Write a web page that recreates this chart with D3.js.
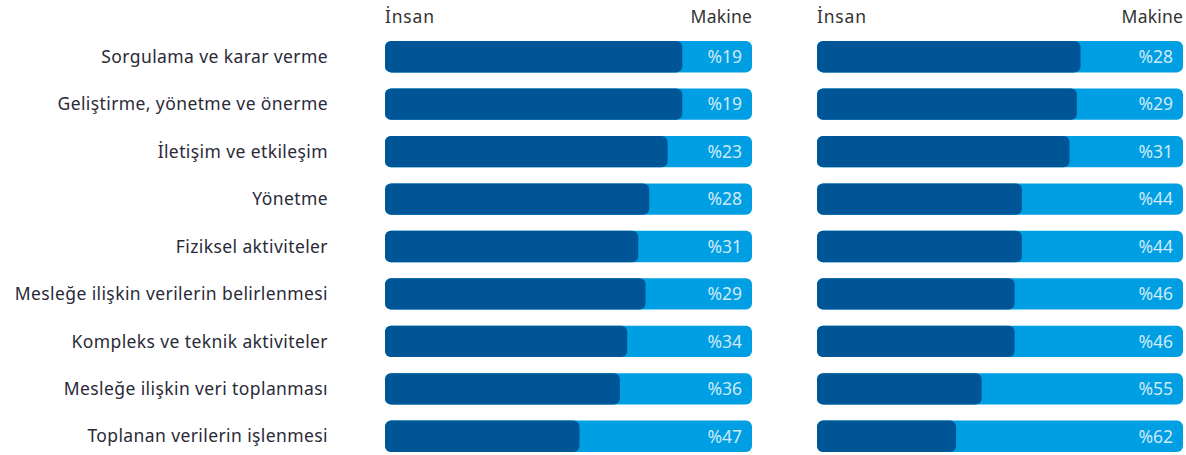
<!DOCTYPE html>
<html><head><meta charset="utf-8">
<script src="https://cdn.jsdelivr.net/npm/d3@7"></script>
<style>body{margin:0;background:#fff}svg{display:block}</style>
</head><body>
<script>
const categories = ["Sorgulama ve karar verme","Geliştirme, yönetme ve önerme","İletişim ve etkileşim","Yönetme","Fiziksel aktiviteler","Mesleğe ilişkin verilerin belirlenmesi","Kompleks ve teknik aktiviteler","Mesleğe ilişkin veri toplanması","Toplanan verilerin işlenmesi"];
const machineLeft = [19,19,23,28,31,29,34,36,47];
const machineRight = [28,29,31,44,44,46,46,55,62];
const headerLeft = "İnsan", headerRight = "Makine";

const W = 1186, H = 455;
const svg = d3.select("body").append("svg").attr("width", W).attr("height", H);
const font = "'Noto Sans', sans-serif";
const y = d3.scaleBand().domain(categories).range([33, 460]).paddingInner(0.34).paddingOuter(0.17);

svg.append("g").selectAll("text").data(categories).join("text")
  .attr("x", 328).attr("y", d => y(d) + y.bandwidth()/2).attr("dy", "0.35em")
  .attr("text-anchor", "end").attr("font-family", font).attr("font-size", 17.5)
  .attr("letter-spacing", 0.4)
  .attr("fill", "#2a2a38").text(d => d);

function panel(x0, x1, vals) {
  const x = d3.scaleLinear().domain([0, 100]).range([x0, x1]);
  const g = svg.append("g");
  g.append("text").attr("x", x0).attr("y", 23).attr("font-family", font).attr("font-size", 17.5).attr("letter-spacing", 0.8).attr("fill", "#333").text(headerLeft);
  g.append("text").attr("x", x1).attr("y", 23).attr("text-anchor", "end").attr("font-family", font).attr("font-size", 17.5).attr("letter-spacing", 0.2).attr("fill", "#333").text(headerRight);
  const rows = g.selectAll("g.row").data(categories.map((c, i) => ({c, v: vals[i]}))).join("g").attr("class", "row");
  rows.append("rect").attr("x", x(0)).attr("y", d => y(d.c)).attr("width", x(100) - x(0)).attr("height", y.bandwidth())
    .attr("rx", 6).attr("fill", "#009fe3");
  rows.append("rect").attr("x", x(0)).attr("y", d => y(d.c)).attr("width", d => x(100 - d.v) - x(0)).attr("height", y.bandwidth())
    .attr("rx", 6).attr("fill", "#005596");
  rows.append("text").attr("x", x(100) - 10).attr("y", d => y(d.c) + y.bandwidth()/2).attr("dy", "0.36em")
    .attr("text-anchor", "end").attr("font-family", font).attr("font-size", 17.5).attr("fill", "#cfe9f8")
    .text(d => "%" + d.v);
}
panel(385, 752, machineLeft);
panel(817, 1183, machineRight);
</script>
</body></html>
